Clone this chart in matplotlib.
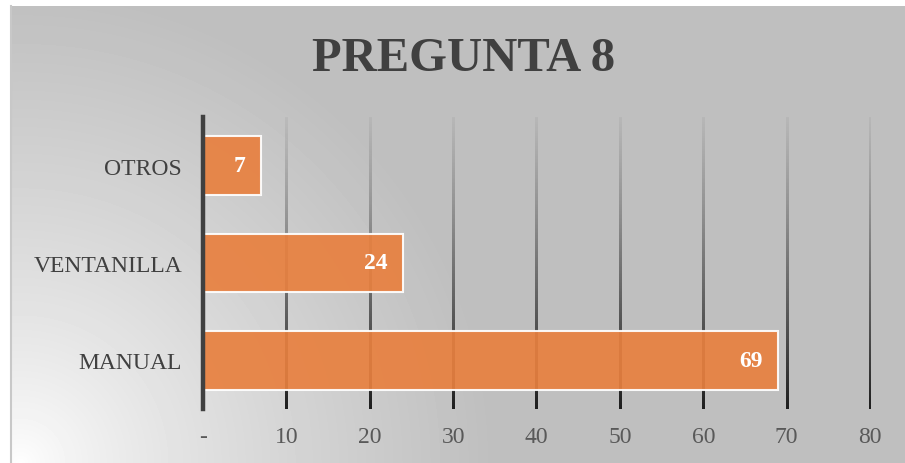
import numpy as np
import matplotlib
matplotlib.use("Agg")
from matplotlib import pyplot as plt

# data
categories = ["MANUAL", "VENTANILLA", "OTROS"]
values = [69, 24, 7]
xticks = [0, 10, 20, 30, 40, 50, 60, 70, 80]
xticklabels = ["-", "10", "20", "30", "40", "50", "60", "70", "80"]
title = "PREGUNTA 8"

W, H = 905, 464
fig = plt.figure(figsize=(W / 100, H / 100), dpi=100)
fig.patch.set_facecolor("white")

# radial background gradient (light at bottom-left)
bg = fig.add_axes([10 / W, 0, 1 - 10 / W, 1 - 7 / H])
yy, xx = np.mgrid[0:H - 7, 0:W - 10]
d = np.hypot(xx - 10, (H - 7) - yy)
f = np.clip(d / 470.0, 0, 1) ** 0.75
shade = 1.0 - f * (1.0 - 191 / 255)
bg.imshow(shade, cmap="gray", vmin=0, vmax=1, aspect="auto", interpolation="bilinear")
bg.set_axis_off()
fig.add_artist(plt.Line2D([10.5 / W, 10.5 / W], [0, 1 - 7 / H], color="#c8c8c8", lw=1.5))

# plot area
x0, x1 = 203, 870
y0, y1 = 118, 410
ax = fig.add_axes([x0 / W, 1 - y1 / H, (x1 - x0) / W, (y1 - y0) / H])
ax.set_facecolor("none")

# gridlines fading toward the top (drawn as thin gradient images)
grad = np.zeros((200, 1, 4))
grad[..., :3] = 0.12
grad[:, 0, 3] = np.linspace(0.1, 1.0, 200) ** 1.3
for xv in xticks[1:]:
    ax.imshow(grad, extent=[xv - 0.13, xv + 0.13, -0.5, 2.5], aspect="auto",
              interpolation="bilinear", zorder=1)

ax.set_xlim(0, 80)
ax.set_ylim(-0.5, 2.5)

y = np.arange(len(categories))
bars = ax.barh(y, values, height=0.6, color="#E8803F", alpha=0.92,
               edgecolor="white", linewidth=1.5, zorder=2)
for b, v in zip(bars, values):
    ax.text(b.get_width() - 1.9, b.get_y() + b.get_height() / 2, str(v),
            ha="right", va="center", color="white", fontsize=17,
            fontweight="bold", family="Liberation Serif", zorder=3)

ax.axvline(0, color="#404040", lw=3.2, zorder=4, clip_on=False)

ax.set_yticks(y)
ax.set_yticklabels(categories, family="Liberation Serif", fontsize=17, color="#404040")
ax.set_xticks(xticks)
ax.set_xticklabels(xticklabels, family="Liberation Serif", fontsize=17, color="#595959")
ax.tick_params(length=0)
ax.tick_params(axis="x", pad=12)
ax.tick_params(axis="y", pad=15)
for s in ax.spines.values():
    s.set_visible(False)

fig.text(464 / W, 1 - 59 / H, title, ha="center", va="center",
         family="Liberation Serif", fontweight="bold", fontsize=35, color="#404040")

fig.savefig("out.png", dpi=100)
